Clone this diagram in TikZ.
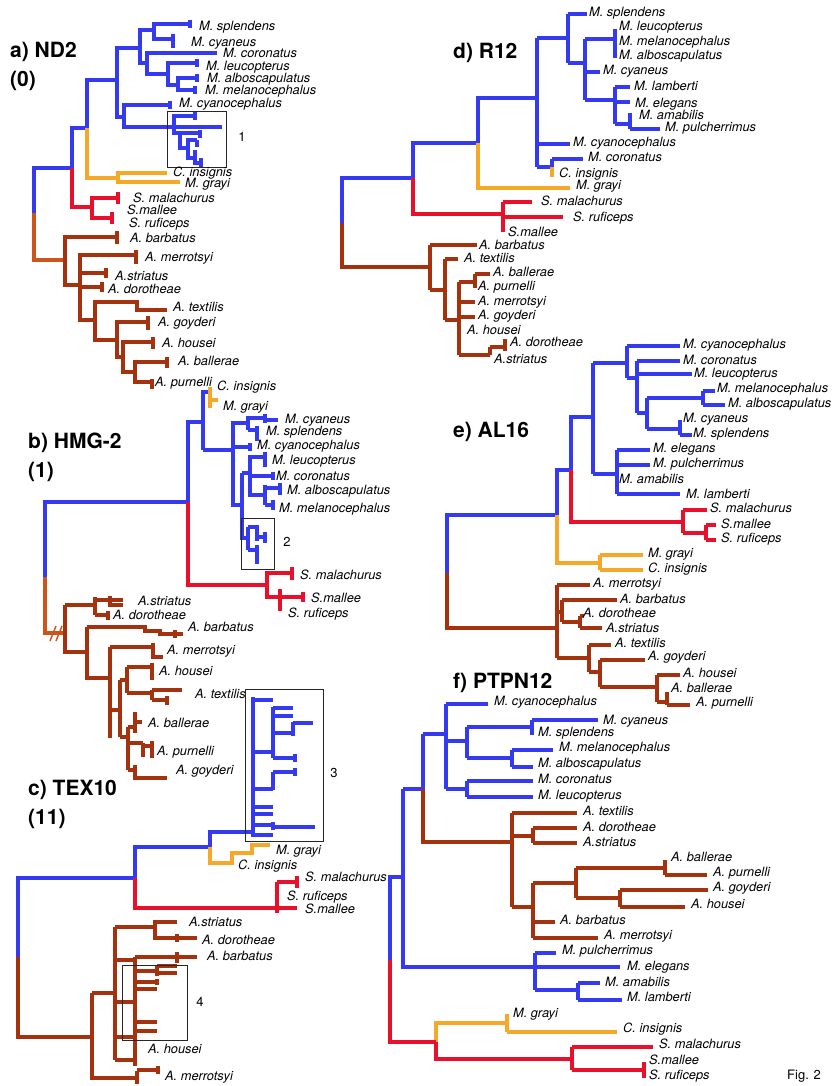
\documentclass[tikz,border=0pt]{standalone}
\usepackage{fontspec}
\setmainfont{TeX Gyre Heros}
\definecolor{mblue}{RGB}{52,58,240}
\definecolor{mgold}{RGB}{246,168,40}
\definecolor{mred}{RGB}{232,16,42}
\definecolor{mbrown}{RGB}{165,50,15}
\definecolor{mrust}{RGB}{205,85,25}

\begin{document}
\begin{tikzpicture}[
            x=1pt, y=-1pt,
            br/.style={line width=3.2pt},
            bl/.style={br, draw=mblue},
            og/.style={br, draw=mgold},
            rd/.style={br, draw=mred},
            bn/.style={br, draw=mbrown},
            rt/.style={br, draw=mrust},
            lbl/.style={font=\itshape\fontsize{12.8}{14}\selectfont, anchor=west, inner sep=0pt},
            ttl/.style={font=\bfseries\fontsize{21}{28.5}\selectfont, align=left, anchor=north west, inner sep=0pt},
            zoombox/.style={draw=black!85, line width=0.8pt},
            num/.style={font=\fontsize{13}{14}\selectfont, inner sep=0pt},
        ]
            \useasboundingbox (0,0) rectangle (831,1086);

            % a) ND2
            \node[ttl] (ta) at (10,42) {a) ND2\\(0)};
            \draw[rt] (34,213) -- (34,260) -- (65,260);
            \draw[bl] (34,213) -- (34,168) -- (72,168) -- (72,128) -- (87,128) -- (87,80) -- (117,80);
            \draw[bl] (140,48) -- (117,48) -- (117,117) -- (124,117)
                (154,30) -- (140,30) -- (140,63) -- (147,63)
                (190,24) -- (154,24) -- (154,39) -- (173,39) (190,20) -- (190,28) (173,34) -- (173,48)
                (217,53) -- (147,53) -- (147,74) -- (168,74)
                (197,63) -- (168,63) -- (168,85) -- (178,85) (197,59) -- (197,67)
                (197,78) -- (178,78) -- (178,90) -- (195,90) (197,74) -- (197,82) (195,86) -- (195,94)
                (170,105) -- (124,105) -- (124,127) -- (222,127) (170,101) -- (170,109);
            \draw[bl] (195,116) -- (174,116) -- (174,133) -- (180,133) -- (180,148) -- (188,148)
                (195,112) -- (195,120) (180,133) -- (200,133) (200,130) -- (200,138)
                (197,140) -- (188,140) -- (188,158) -- (195,158) (197,140) -- (197,147)
                (195,150) -- (195,163) -- (201,163) (201,158) -- (201,167);
            \draw[og] (87,128) -- (87,178) -- (118,178)
                (167,173) -- (118,173) -- (118,182) -- (180,182);
            \draw[rd] (72,168) -- (72,207) -- (92,207)
                (118,198) -- (92,198) -- (92,218) -- (112,218)
                (118,192) -- (118,204) (112,212) -- (112,224);
            \draw[bn] (117,237) -- (65,237) -- (65,285) -- (80,285) (117,231) -- (117,244)
                (136,255) -- (80,255) -- (80,320) -- (95,320) (136,250) -- (136,264)
                (80,273) -- (106,273) (106,268) -- (106,278)
                (80,287) -- (102,287) (102,282) -- (102,292)
                (137,302) -- (95,302) -- (95,340) -- (117,340) (137,300) -- (137,310) -- (167,310)
                (148,322) -- (117,322) -- (117,357) -- (123,357) (148,316) -- (148,330)
                (153,342) -- (123,342) -- (123,372) -- (135,372) (153,337) -- (153,349)
                (167,362) -- (135,362) -- (135,382) -- (152,382) (167,357) -- (167,368) (152,379) -- (152,389);
            \draw[zoombox] (167,111) rectangle (226,167);
            \node[num] (n1) at (242,137) {1};
            \foreach \x/\y/\t [count=\i] in {199/27/M. splendens, 191/43/M. cyaneus, 223/53/M. coronatus,
                    206/67/M. leucopterus, 207/79/M. alboscapulatus, 205/91/M. melanocephalus,
                    179/104/M. cyanocephalus, 173/173/C. insignis, 185/184/M. grayi,
                    133/198/S. malachurus, 127/210/S.mallee, 129/224/S. ruficeps, 130/238/A. barbatus,
                    145/258/A. merrotsyi, 115/276/A.striatus, 108/289/A. dorotheae, 173/307/A. textilis,
                    158/323/A. goyderi, 162/343/A. housei, 178/361/A. ballerae, 155/383/A. purnelli}
                \node[lbl] (a\i) at (\x,\y) {\t};

            % b) HMG-2
            \node[ttl] (tb) at (28,433) {b) HMG-2\\(1)};
            \draw[rt] (45,577) -- (45,633) -- (65,633);
            \draw[rt, line width=1.4pt] (50,641) -- (56,626) (56,641) -- (62,626);
            \draw[bl] (45,577) -- (45,502) -- (188,502) -- (188,422) -- (203,422)
                (203,450) -- (203,392) -- (210,392)
                (203,450) -- (233,450) (248,423) -- (233,423) -- (233,505) -- (242,505)
                (248,416) -- (248,430) (248,418) -- (265,418) (265,414) -- (265,423) (265,420) -- (278,420)
                (248,430) -- (257,430) (257,426) -- (257,441)
                (233,447) -- (250,447) (250,443) -- (250,451)
                (242,473) -- (250,473) (265,457) -- (250,457) -- (250,495) -- (265,495) (265,452) -- (265,467)
                (250,476) -- (273,476) (273,472) -- (273,480)
                (265,485) -- (265,505) (265,488) -- (280,488) (280,483) -- (280,495)
                (265,505) -- (273,505) (273,500) -- (273,510)
                (242,473) -- (242,538) -- (248,538)
                (248,527) -- (248,550) (248,527) -- (257,527) -- (257,541) (257,537) -- (265,537) (265,532) -- (265,543)
                (248,550) -- (257,550) (257,545) -- (257,564);
            \draw[og] (210,387) -- (210,408) (210,400) -- (218,400);
            \draw[rd] (188,502) -- (188,585) -- (267,585)
                (292,573) -- (267,573) -- (267,597) -- (303,597) (280,589) -- (280,611)
                (292,567) -- (292,580) (303,592) -- (303,602);
            \draw[bn] (65,605) -- (65,652) -- (87,652)
                (65,605) -- (95,605) (95,597) -- (95,615)
                (95,600) -- (123,600) (110,596) -- (110,607) (110,605) -- (123,605)
                (95,615) -- (108,615) (108,611) -- (108,620)
                (87,627) -- (87,678) -- (110,678)
                (87,627) -- (145,627) -- (145,631) -- (160,631) -- (160,634) -- (183,634) (175,630) -- (175,638)
                (110,647) -- (110,738)
                (110,647) -- (153,647) (153,643) -- (153,657) -- (163,657)
                (110,710) -- (120,710) (120,680) -- (120,737)
                (120,680) -- (127,680) (127,667) -- (127,693)
                (127,667) -- (152,667) (152,663) -- (152,680)
                (127,693) -- (152,693) (152,690) -- (152,700) (152,690) -- (182,690)
                (152,700) -- (167,700) (167,696) -- (167,705)
                (120,737) -- (128,737) (128,727) -- (128,770)
                (128,727) -- (135,727) (135,712) -- (135,733) (135,722) -- (142,722)
                (128,743) -- (143,743) (143,743) -- (143,757) (143,746) -- (152,746) (152,741) -- (152,758)
                (128,770) -- (135,770) (135,765) -- (135,780) (135,778) -- (167,778);
            \draw[zoombox] (241,518) rectangle (274,569);
            \node[num] (n2) at (287,542) {2};
            \foreach \x/\y/\t [count=\i] in {217/387/C. insignis, 223/407/M. grayi, 285/420/M. cyaneus,
                    266/432/M. splendens, 257/446/M. cyanocephalus, 272/461/M. leucopterus,
                    276/476/M. coronatus, 287/491/M. alboscapulatus, 279/509/M. melanocephalus,
                    300/575/S. malachurus, 311/598/S.mallee, 288/614/S. ruficeps, 138/601/A.striatus,
                    113/615/A. dorotheae, 188/627/A. barbatus, 167/651/A. merrotsyi, 159/671/A. housei,
                    195/694/A. textilis, 148/723/A. ballerae, 157/752/A. purnelli, 176/771/A. goyderi}
                \node[lbl] (b\i) at (\x,\y) {\t};

            % c) TEX10
            \node[ttl] (tc) at (28,780) {c) TEX10\\(11)};
            \draw[bl] (18,957) -- (18,878) -- (135,878) -- (135,847) -- (210,847) -- (210,832) -- (253,832)
                (253,697) -- (253,837)
                (253,700) -- (273,700)
                (253,752) -- (273,752) (273,707) -- (273,758)
                (273,708) -- (293,708) (273,716) -- (293,716)
                (273,733) -- (293,733) (293,722) -- (293,736) (293,723) -- (313,723)
                (273,758) -- (295,758) (295,754) -- (295,762)
                (253,789) -- (273,789) (273,772) -- (273,790) (273,772) -- (295,772) (295,768) -- (295,776)
                (253,807) -- (273,807) (253,814) -- (273,814)
                (253,825) -- (273,825) (273,822) -- (273,830) (273,827) -- (315,827)
                (253,835) -- (273,835);
            \draw[og] (210,847) -- (210,863) -- (232,863) -- (232,853) -- (252,853) -- (252,845) -- (270,845);
            \draw[rd] (135,878) -- (135,908) -- (297,908)
                (277,882) -- (277,913) (277,882) -- (297,882) (297,876) -- (297,888);
            \draw[bn] (18,957) -- (18,1037) -- (92,1037)
                (92,993) -- (92,1078) -- (137,1078)
                (137,1071) -- (137,1084) (137,1070) -- (158,1070) (158,1066) -- (158,1074)
                (92,993) -- (115,993) (115,927) -- (115,1060)
                (115,927) -- (155,927) (155,920) -- (155,940) (155,922) -- (177,922)
                (155,938) -- (197,938) (177,934) -- (177,942)
                (115,960) -- (135,960) (135,957) -- (135,1060)
                (135,957) -- (197,957) (177,952) -- (177,963)
                (135,971) -- (157,971) (157,966) -- (157,976) (157,966) -- (177,966) (157,973) -- (177,973)
                (135,982) -- (157,982) (157,979) -- (157,985)
                (135,989) -- (157,989)
                (115,1002) -- (135,1002)
                (135,1022) -- (157,1022)
                (135,1031) -- (157,1031)
                (115,1037) -- (135,1037)
                (115,1060) -- (135,1060) (135,1054) -- (135,1066);
            \draw[zoombox] (245,689) rectangle (323,841);
            \draw[zoombox] (122,965) rectangle (187,1040);
            \node[num] (n3) at (334,773) {3};
            \node[num] (n4) at (200,1002) {4};
            \foreach \x/\y/\t [count=\i] in {276/851/M. grayi, 238/866/C. insignis, 305/877/S. malachurus,
                    287/897/S. ruficeps, 305/909/S.mallee, 189/922/A.striatus, 202/940/A. dorotheae,
                    207/956/A. barbatus, 148/1049/A. housei, 165/1077/A. merrotsyi}
                \node[lbl] (c\i) at (\x,\y) {\t};

            % d) R12
            \node[ttl] (td) at (453,43) {d) R12};
            \draw[bl] (342,223) -- (342,178) -- (413,178) -- (413,143) -- (478,143) -- (478,98) -- (537,98)
                (537,38) -- (537,167)
                (537,38) -- (568,38) (568,14) -- (568,63) (568,14) -- (587,14) (568,63) -- (585,63)
                (585,39) -- (585,100) (585,39) -- (615,39) (615,29) -- (615,58)
                (585,72) -- (600,72)
                (585,100) -- (615,100) (615,87) -- (615,124) (615,87) -- (630,87) (615,102) -- (630,102)
                (615,124) -- (630,124) (630,113) -- (630,129) (630,129) -- (660,129)
                (537,144) -- (570,144)
                (537,167) -- (552,167) (552,159) -- (552,167) (552,159) -- (583,159);
            \draw[og] (478,143) -- (478,188) -- (570,188) (552,167) -- (552,177);
            \draw[rd] (413,178) -- (413,214) -- (503,214) (503,202) -- (503,232)
                (503,202) -- (532,202) (503,217) -- (563,217);
            \draw[bn] (342,223) -- (342,267) -- (430,267)
                (430,245) -- (430,290) (430,245) -- (477,245) (430,290) -- (445,290)
                (445,259) -- (445,320) (445,259) -- (458,259) (445,320) -- (459,320)
                (459,282) -- (459,355) (459,282) -- (475,282) (475,274) -- (475,288) (475,274) -- (490,274)
                (459,302) -- (475,302) (459,317) -- (475,317)
                (459,355) -- (490,355) (490,347) -- (490,355) (490,347) -- (505,347) (505,339) -- (505,351);
            \foreach \x/\y/\t [count=\i] in {589/13/M. splendens, 619/27/M. leucopterus,
                    619/42/M. melanocephalus, 619/56/M. alboscapulatus, 603/71/M. cyaneus,
                    634/86/M. lamberti, 635/104/M. elegans, 639/115/M. amabilis, 665/128/M. pulcherrimus,
                    573/143/M. cyanocephalus, 588/157/M. coronatus, 559/174/C. insignis, 576/186/M. grayi,
                    541/201/S. malachurus, 573/218/S. ruficeps, 508/232/S.mallee, 479/245/A. barbatus,
                    464/258/A. textilis, 493/272/A. ballerae, 478/287/A. purnelli, 478/302/A. merrotsyi,
                    478/316/A. goyderi, 467/330/A. housei, 510/342/A. dorotheae, 494/359/A.striatus}
                \node[lbl] (d\i) at (\x,\y) {\t};

            % e) AL16
            \node[ttl] (te) at (453,422) {e) AL16};
            \draw[bl] (447,573) -- (447,515) -- (557,515) -- (557,470) -- (571,470) -- (571,417) -- (593,417)
                (593,363) -- (593,474)
                (593,363) -- (627,363) (627,346) -- (627,378) (627,346) -- (680,346) (627,378) -- (637,378)
                (637,361) -- (637,413) (637,361) -- (680,361) (637,374) -- (692,374) (637,413) -- (647,413)
                (647,398) -- (647,429) (647,398) -- (703,398) (703,391) -- (703,405) (703,391) -- (715,391) (703,405) -- (725,405)
                (647,429) -- (680,429) (680,420) -- (680,435) (680,435) -- (692,435)
                (593,474) -- (617,474) (617,450) -- (617,494) (617,450) -- (650,450) (617,465) -- (650,465) (617,494) -- (680,494);
            \draw[og] (557,515) -- (557,563) -- (600,563) (600,555) -- (600,570)
                (600,555) -- (643,555) (600,570) -- (643,570);
            \draw[rd] (571,470) -- (571,522) -- (683,522) (683,510) -- (683,533)
                (683,510) -- (707,510) (683,533) -- (706,533) (706,525) -- (706,540)
                (706,525) -- (716,525) (706,540) -- (716,540);
            \draw[bn] (447,573) -- (447,628) -- (557,628)
                (557,585) -- (557,658) (557,585) -- (590,585)
                (557,612) -- (562,612) (562,600) -- (562,622) (562,600) -- (617,600) (562,622) -- (580,622)
                (580,616) -- (580,628) (580,616) -- (584,616) (580,628) -- (602,628)
                (557,658) -- (589,658) (589,645) -- (589,672) (589,645) -- (611,645) (589,672) -- (600,672)
                (600,660) -- (600,687) (600,660) -- (645,660) (600,687) -- (657,687)
                (657,675) -- (657,702) (657,675) -- (680,675) (657,702) -- (667,702)
                (667,692) -- (667,705) (667,705) -- (690,705);
            \foreach \x/\y/\t [count=\i] in {683/345/M. cyanocephalus, 683/360/M. coronatus,
                    694/374/M. leucopterus, 717/389/M. melanocephalus, 728/404/M. alboscapulatus,
                    683/419/M. cyaneus, 693/434/M. splendens, 653/449/M. elegans, 653/464/M. pulcherrimus,
                    619/479/M. amabilis, 686/494/M. lamberti, 710/508/S. malachurus, 721/524/S.mallee,
                    721/539/S. ruficeps, 648/554/M. grayi, 648/569/C. insignis, 593/584/A. merrotsyi,
                    620/599/A. barbatus, 583/613/A. dorotheae, 606/628/A.striatus, 615/643/A. textilis,
                    648/657/A. goyderi, 683/673/A. housei, 671/688/A. ballerae, 696/703/A. purnelli}
                \node[lbl] (e\i) at (\x,\y) {\t};

            % f) PTPN12
            \node[ttl] (tf) at (453,673) {f) PTPN12};
            \draw[bl] (390,960) -- (390,877) -- (403,877)
                (403,789) -- (403,967) -- (535,967) (403,789) -- (423,789) (423,734) -- (423,789)
                (423,734) -- (446,734) (446,704) -- (446,789) (446,704) -- (488,704)
                (446,741) -- (467,741) (467,727) -- (467,758) (467,727) -- (532,727)
                (532,720) -- (532,735) (532,720) -- (598,720)
                (467,758) -- (512,758) (512,750) -- (512,767) (512,750) -- (553,750) (512,767) -- (533,767)
                (446,789) -- (467,789) (467,781) -- (467,797) (467,781) -- (533,781) (467,797) -- (533,797)
                (535,953) -- (535,990) (535,953) -- (556,953) (535,967) -- (620,967) (535,990) -- (578,990)
                (578,983) -- (578,1000) (578,983) -- (600,983) (578,1000) -- (622,1000);
            \draw[bn] (423,789) -- (423,842) -- (512,842)
                (512,813) -- (512,907) (512,813) -- (577,813)
                (512,836) -- (533,836) (533,828) -- (533,843) (533,828) -- (577,828) (533,843) -- (577,843)
                (512,907) -- (533,907) (533,883) -- (533,938) (533,883) -- (576,883)
                (576,868) -- (576,898) (576,868) -- (665,868) (665,860) -- (665,875) (665,875) -- (707,875)
                (576,898) -- (620,898) (620,890) -- (620,907) (620,890) -- (708,890) (620,907) -- (685,907)
                (533,922) -- (555,922) (533,938) -- (598,938);
            \draw[og] (436,1042) -- (436,1023) -- (507,1023) (507,1014) -- (507,1032) (507,1032) -- (617,1032);
            \draw[rd] (390,960) -- (390,1042) -- (436,1042)
                (436,1042) -- (436,1059) -- (572,1059) (572,1047) -- (572,1070)
                (572,1047) -- (653,1047) (572,1070) -- (644,1070) (644,1062) -- (644,1078);
            \foreach \x/\y/\t [count=\i] in {494/702/M. cyanocephalus, 603/721/M. cyaneus,
                    538/733/M. splendens, 559/748/M. melanocephalus, 538/764/M. alboscapulatus,
                    538/779/M. coronatus, 538/796/M. leucopterus, 583/811/A. textilis,
                    583/827/A. dorotheae, 583/842/A.striatus, 671/857/A. ballerae, 713/873/A. purnelli,
                    713/888/A. goyderi, 691/904/A. housei, 560/920/A. barbatus, 604/936/A. merrotsyi,
                    562/951/M. pulcherrimus, 627/967/M. elegans, 605/982/M. amabilis, 627/997/M. lamberti,
                    513/1014/M. grayi, 623/1029/C. insignis, 659/1044/S. malachurus, 649/1060/S.mallee,
                    649/1076/S. ruficeps}
                \node[lbl] (f\i) at (\x,\y) {\t};

            \node[num, anchor=west] (fig) at (787,1076) {Fig. 2};
        \end{tikzpicture}
\end{document}
